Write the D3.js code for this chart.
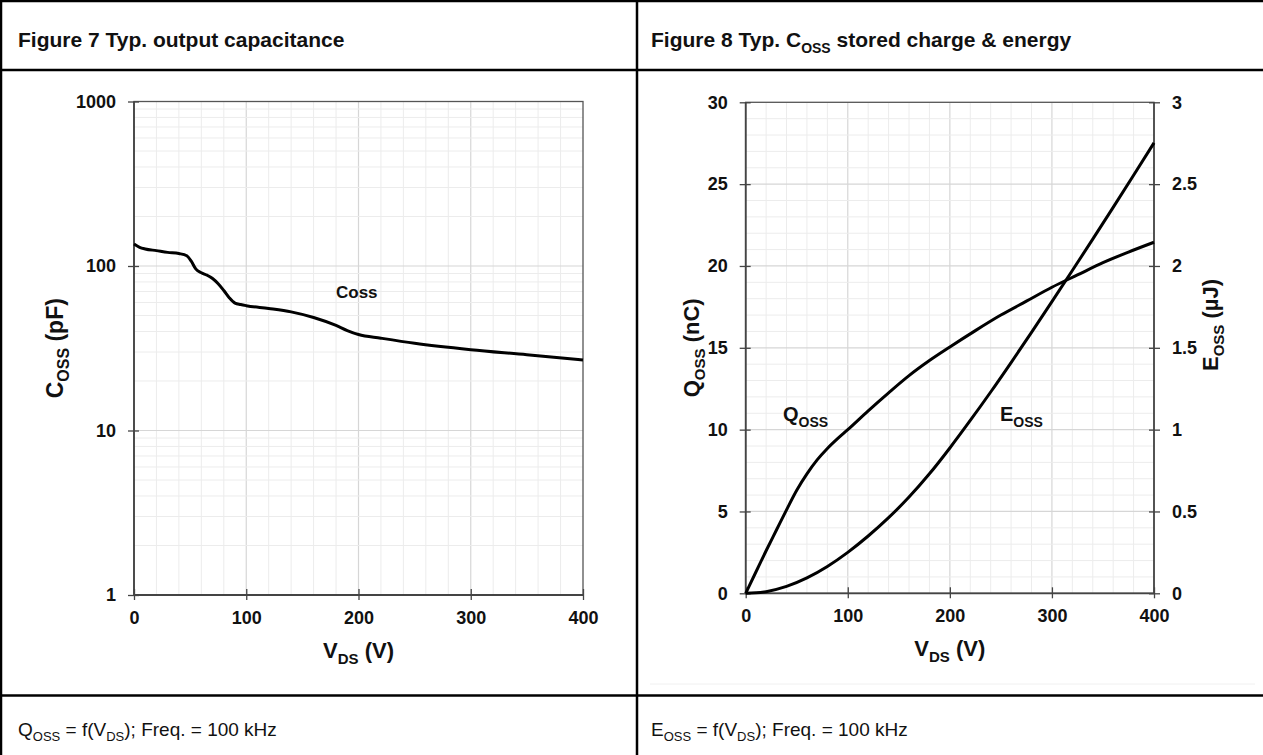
<!DOCTYPE html>
<html>
<head>
<meta charset="utf-8">
<script src="https://cdn.jsdelivr.net/npm/d3@7"></script>
<style>
  body { margin: 0; background: #fff; }
  svg { display: block; }
  text { font-family: "Liberation Sans", Arial, sans-serif; fill: #111; }
</style>
</head>
<body>
<div id="chart"></div>
<script>
// ---- data ----
// Figure 7: Coss vs Vds (log scale)
const cossV  = [0, 5, 10, 20, 30, 40, 47, 51, 55, 60, 65, 70, 75, 80, 85, 90, 95, 100, 120, 140, 160, 180, 190, 200, 220, 250, 300, 350, 400];
const cossPF = [136, 130, 127, 124, 121, 119, 115.5, 107, 96, 91, 88, 84, 78, 71, 64, 59.5, 58.3, 57.4, 55.2, 52.6, 48.6, 43.5, 40.5, 38.3, 36.4, 33.9, 31.0, 28.9, 26.8];

// Figure 8: Qoss (left axis, nC) and Eoss (right axis, uJ)
const qossV  = [0, 10, 20, 30, 40, 50, 60, 70, 80, 90, 100, 120, 140, 160, 180, 200, 225, 250, 275, 300, 325, 350, 375, 400];
const qossNC = [0, 1.3, 2.6, 3.85, 5.1, 6.3, 7.3, 8.15, 8.85, 9.45, 10.0, 11.15, 12.25, 13.3, 14.22, 15.05, 16.05, 17.0, 17.85, 18.7, 19.45, 20.2, 20.85, 21.45];
const eossV  = [0, 20, 40, 60, 80, 100, 120, 140, 160, 180, 200, 220, 240, 260, 280, 300, 320, 340, 360, 380, 400];
const eossUJ = [0, 0.01, 0.042, 0.094, 0.164, 0.25, 0.35, 0.462, 0.588, 0.73, 0.888, 1.056, 1.23, 1.41, 1.594, 1.782, 1.972, 2.164, 2.358, 2.554, 2.752];

// tick labels
const vdsTicks  = [0, 100, 200, 300, 400];
const cossTicks = [1, 10, 100, 1000];
const qTicks    = [0, 5, 10, 15, 20, 25, 30];
const eTicks    = [0, 0.5, 1, 1.5, 2, 2.5, 3];

const W = 1263, H = 755;
const svg = d3.select('#chart').append('svg')
  .attr('width', W)
  .attr('height', H);

// text with subscript parts: [[text, isSub], ...]
function richText(sel, parts, size, subSize) {
  let down = false;
  const shift = size * 0.28;
  parts.forEach(([t, sub]) => {
    const ts = sel.append('tspan').text(t).attr('font-size', sub ? subSize : size);
    if (sub && !down) { ts.attr('dy', shift); down = true; }
    else if (!sub && down) { ts.attr('dy', -shift); down = false; }
  });
  return sel;
}

// ---- table frame ----
const frame = svg.append('g').attr('stroke', '#000').attr('stroke-width', 2.5);
frame.append('line').attr('x1', 0).attr('x2', W).attr('y1', 1).attr('y2', 1);
frame.append('line').attr('x1', 1).attr('x2', 1).attr('y1', 0).attr('y2', H);
frame.append('line').attr('x1', 0).attr('x2', W).attr('y1', 70).attr('y2', 70);
frame.append('line').attr('x1', 0).attr('x2', W).attr('y1', 695.5).attr('y2', 695.5);
frame.append('line').attr('x1', 637).attr('x2', 637).attr('y1', 0).attr('y2', H);
// faint scan line in the right cell
svg.append('line').attr('x1', 650).attr('x2', 1255).attr('y1', 684).attr('y2', 684)
  .attr('stroke', '#f0f0f0').attr('stroke-width', 1);

// titles
richText(svg.append('text').attr('x', 18).attr('y', 47).attr('font-weight', 'bold'),
  [['Figure 7 Typ. output capacitance', false]], 21, 14);
richText(svg.append('text').attr('x', 651).attr('y', 47).attr('font-weight', 'bold'),
  [['Figure 8 Typ. C', false], ['OSS', true], [' stored charge & energy', false]], 21, 14);

// footers
richText(svg.append('text').attr('x', 18).attr('y', 736),
  [['Q', false], ['OSS', true], [' = f(V', false], ['DS', true], ['); Freq. = 100 kHz', false]], 19, 13);
richText(svg.append('text').attr('x', 651).attr('y', 736),
  [['E', false], ['OSS', true], [' = f(V', false], ['DS', true], ['); Freq. = 100 kHz', false]], 19, 13);

const minorCol = '#ececec', majorCol = '#d6d6d6', axisCol = '#444';

function vGrid(g, x, y0, y1) {
  g.selectAll('line.vminor').data(d3.range(20, 400, 20).filter(v => v % 100 !== 0))
    .enter().append('line')
    .attr('x1', d => x(d)).attr('x2', d => x(d)).attr('y1', y0).attr('y2', y1)
    .attr('stroke', minorCol).attr('stroke-width', 1);
  g.selectAll('line.vmajor').data([100, 200, 300])
    .enter().append('line')
    .attr('x1', d => x(d)).attr('x2', d => x(d)).attr('y1', y0).attr('y2', y1)
    .attr('stroke', majorCol).attr('stroke-width', 1.2);
}

function styleAxis(g) {
  g.select('.domain').remove();
  g.selectAll('line').attr('stroke', axisCol).attr('stroke-width', 1.3);
  g.selectAll('text').attr('font-size', 18).attr('font-weight', 'bold').attr('fill', '#111')
    .attr('font-family', '"Liberation Sans", Arial, sans-serif');
}

// ================= Figure 7 =================
const x1 = d3.scaleLinear().domain([0, 400]).range([134, 583]);
const y1 = d3.scaleLog().domain([1, 1000]).range([595, 101.5]);

const g1 = svg.append('g');
const grid1 = g1.append('g');
vGrid(grid1, x1, y1(1000), y1(1));
const logMinor = [];
[1, 10, 100].forEach(d => d3.range(2, 10).forEach(k => logMinor.push(d * k)));
grid1.selectAll('line.hminor').data(logMinor).enter().append('line')
  .attr('x1', x1(0)).attr('x2', x1(400)).attr('y1', d => y1(d)).attr('y2', d => y1(d))
  .attr('stroke', minorCol).attr('stroke-width', 1);
grid1.selectAll('line.hmajor').data([10, 100]).enter().append('line')
  .attr('x1', x1(0)).attr('x2', x1(400)).attr('y1', d => y1(d)).attr('y2', d => y1(d))
  .attr('stroke', majorCol).attr('stroke-width', 1.2);

// plot box
g1.append('rect').attr('x', x1(0)).attr('y', y1(1000)).attr('width', x1(400) - x1(0)).attr('height', y1(1) - y1(1000))
  .attr('fill', 'none').attr('stroke', '#555').attr('stroke-width', 1.3);
g1.append('line').attr('x1', x1(0)).attr('x2', x1(0)).attr('y1', y1(1000)).attr('y2', y1(1)).attr('stroke', axisCol).attr('stroke-width', 1.8);
g1.append('line').attr('x1', x1(0)).attr('x2', x1(400)).attr('y1', y1(1)).attr('y2', y1(1)).attr('stroke', axisCol).attr('stroke-width', 1.8);

const ax1 = g1.append('g').attr('transform', `translate(${x1(0)},0)`)
  .call(d3.axisLeft(y1).tickValues(cossTicks).tickFormat(d3.format('d')).tickSize(6).tickPadding(12));
styleAxis(ax1);
ax1.selectAll('.tick line').attr('x2', -6).attr('x1', 5);

const bx1 = g1.append('g').attr('transform', `translate(0,${y1(1)})`)
  .call(d3.axisBottom(x1).tickValues(vdsTicks).tickSize(6).tickPadding(10));
styleAxis(bx1);
bx1.selectAll('.tick line').attr('y1', -6).attr('y2', 5);

const line1 = d3.line().x((d, i) => x1(cossV[i])).y(d => y1(d)).curve(d3.curveMonotoneX);
g1.append('path').datum(cossPF).attr('d', line1)
  .attr('fill', 'none').attr('stroke', '#000').attr('stroke-width', 3).attr('stroke-linejoin', 'round');

g1.append('text').attr('x', 336).attr('y', 297.5).attr('font-size', 17).attr('font-weight', 'bold').text('Coss');

richText(g1.append('text').attr('x', (x1(0) + x1(400)) / 2).attr('y', 658).attr('text-anchor', 'middle').attr('font-weight', 'bold'),
  [['V', false], ['DS', true], [' (V)', false]], 22, 15);
richText(g1.append('text').attr('transform', `translate(63,${(y1(1) + y1(1000)) / 2}) rotate(-90)`).attr('text-anchor', 'middle').attr('font-weight', 'bold'),
  [['C', false], ['OSS', true], [' (pF)', false]], 23, 16);

// ================= Figure 8 =================
const x2 = d3.scaleLinear().domain([0, 400]).range([745.7, 1154]);
const yQ = d3.scaleLinear().domain([0, 30]).range([593.3, 102.3]);
const yE = d3.scaleLinear().domain([0, 3]).range([593.3, 102.3]);

const g2 = svg.append('g');
const grid2 = g2.append('g');
vGrid(grid2, x2, yQ(30), yQ(0));
grid2.selectAll('line.hminor').data(d3.range(1, 30).filter(v => v % 5 !== 0)).enter().append('line')
  .attr('x1', x2(0)).attr('x2', x2(400)).attr('y1', d => yQ(d)).attr('y2', d => yQ(d))
  .attr('stroke', minorCol).attr('stroke-width', 1);
grid2.selectAll('line.hmajor').data([5, 10, 15, 20, 25]).enter().append('line')
  .attr('x1', x2(0)).attr('x2', x2(400)).attr('y1', d => yQ(d)).attr('y2', d => yQ(d))
  .attr('stroke', majorCol).attr('stroke-width', 1.2);

g2.append('rect').attr('x', x2(0)).attr('y', yQ(30)).attr('width', x2(400) - x2(0)).attr('height', yQ(0) - yQ(30))
  .attr('fill', 'none').attr('stroke', '#555').attr('stroke-width', 1.3);
g2.append('line').attr('x1', x2(0)).attr('x2', x2(0)).attr('y1', yQ(30)).attr('y2', yQ(0)).attr('stroke', axisCol).attr('stroke-width', 1.8);
g2.append('line').attr('x1', x2(0)).attr('x2', x2(400)).attr('y1', yQ(0)).attr('y2', yQ(0)).attr('stroke', axisCol).attr('stroke-width', 1.8);
g2.append('line').attr('x1', x2(400)).attr('x2', x2(400)).attr('y1', yQ(30)).attr('y2', yQ(0)).attr('stroke', axisCol).attr('stroke-width', 1.6);

const axQ = g2.append('g').attr('transform', `translate(${x2(0)},0)`)
  .call(d3.axisLeft(yQ).tickValues(qTicks).tickSize(6).tickPadding(12));
styleAxis(axQ);
axQ.selectAll('.tick line').attr('x2', -6).attr('x1', 5);

const axE = g2.append('g').attr('transform', `translate(${x2(400)},0)`)
  .call(d3.axisRight(yE).tickValues(eTicks).tickFormat(d => String(d)).tickSize(6).tickPadding(12));
styleAxis(axE);
axE.selectAll('.tick line').attr('x2', 6).attr('x1', -5);

const bx2 = g2.append('g').attr('transform', `translate(0,${yQ(0)})`)
  .call(d3.axisBottom(x2).tickValues(vdsTicks).tickSize(6).tickPadding(10));
styleAxis(bx2);
bx2.selectAll('.tick line').attr('y1', -6).attr('y2', 5);

const lineQ = d3.line().x((d, i) => x2(qossV[i])).y(d => yQ(d)).curve(d3.curveMonotoneX);
const lineE = d3.line().x((d, i) => x2(eossV[i])).y(d => yE(d)).curve(d3.curveMonotoneX);
g2.append('path').datum(qossNC).attr('d', lineQ)
  .attr('fill', 'none').attr('stroke', '#000').attr('stroke-width', 3).attr('stroke-linejoin', 'round');
g2.append('path').datum(eossUJ).attr('d', lineE)
  .attr('fill', 'none').attr('stroke', '#000').attr('stroke-width', 3).attr('stroke-linejoin', 'round');

richText(g2.append('text').attr('x', 783).attr('y', 421).attr('font-weight', 'bold'),
  [['Q', false], ['OSS', true]], 20, 14);
richText(g2.append('text').attr('x', 1000).attr('y', 421).attr('font-weight', 'bold'),
  [['E', false], ['OSS', true]], 20, 14);

richText(g2.append('text').attr('x', (x2(0) + x2(400)) / 2).attr('y', 656).attr('text-anchor', 'middle').attr('font-weight', 'bold'),
  [['V', false], ['DS', true], [' (V)', false]], 22, 15);
richText(g2.append('text').attr('transform', `translate(699,${(yQ(0) + yQ(30)) / 2}) rotate(-90)`).attr('text-anchor', 'middle').attr('font-weight', 'bold'),
  [['Q', false], ['OSS', true], [' (nC)', false]], 22, 15);
richText(g2.append('text').attr('transform', `translate(1218,325) rotate(-90)`).attr('text-anchor', 'middle').attr('font-weight', 'bold'),
  [['E', false], ['OSS', true], [' (µJ)', false]], 22, 15);
</script>
</body>
</html>
